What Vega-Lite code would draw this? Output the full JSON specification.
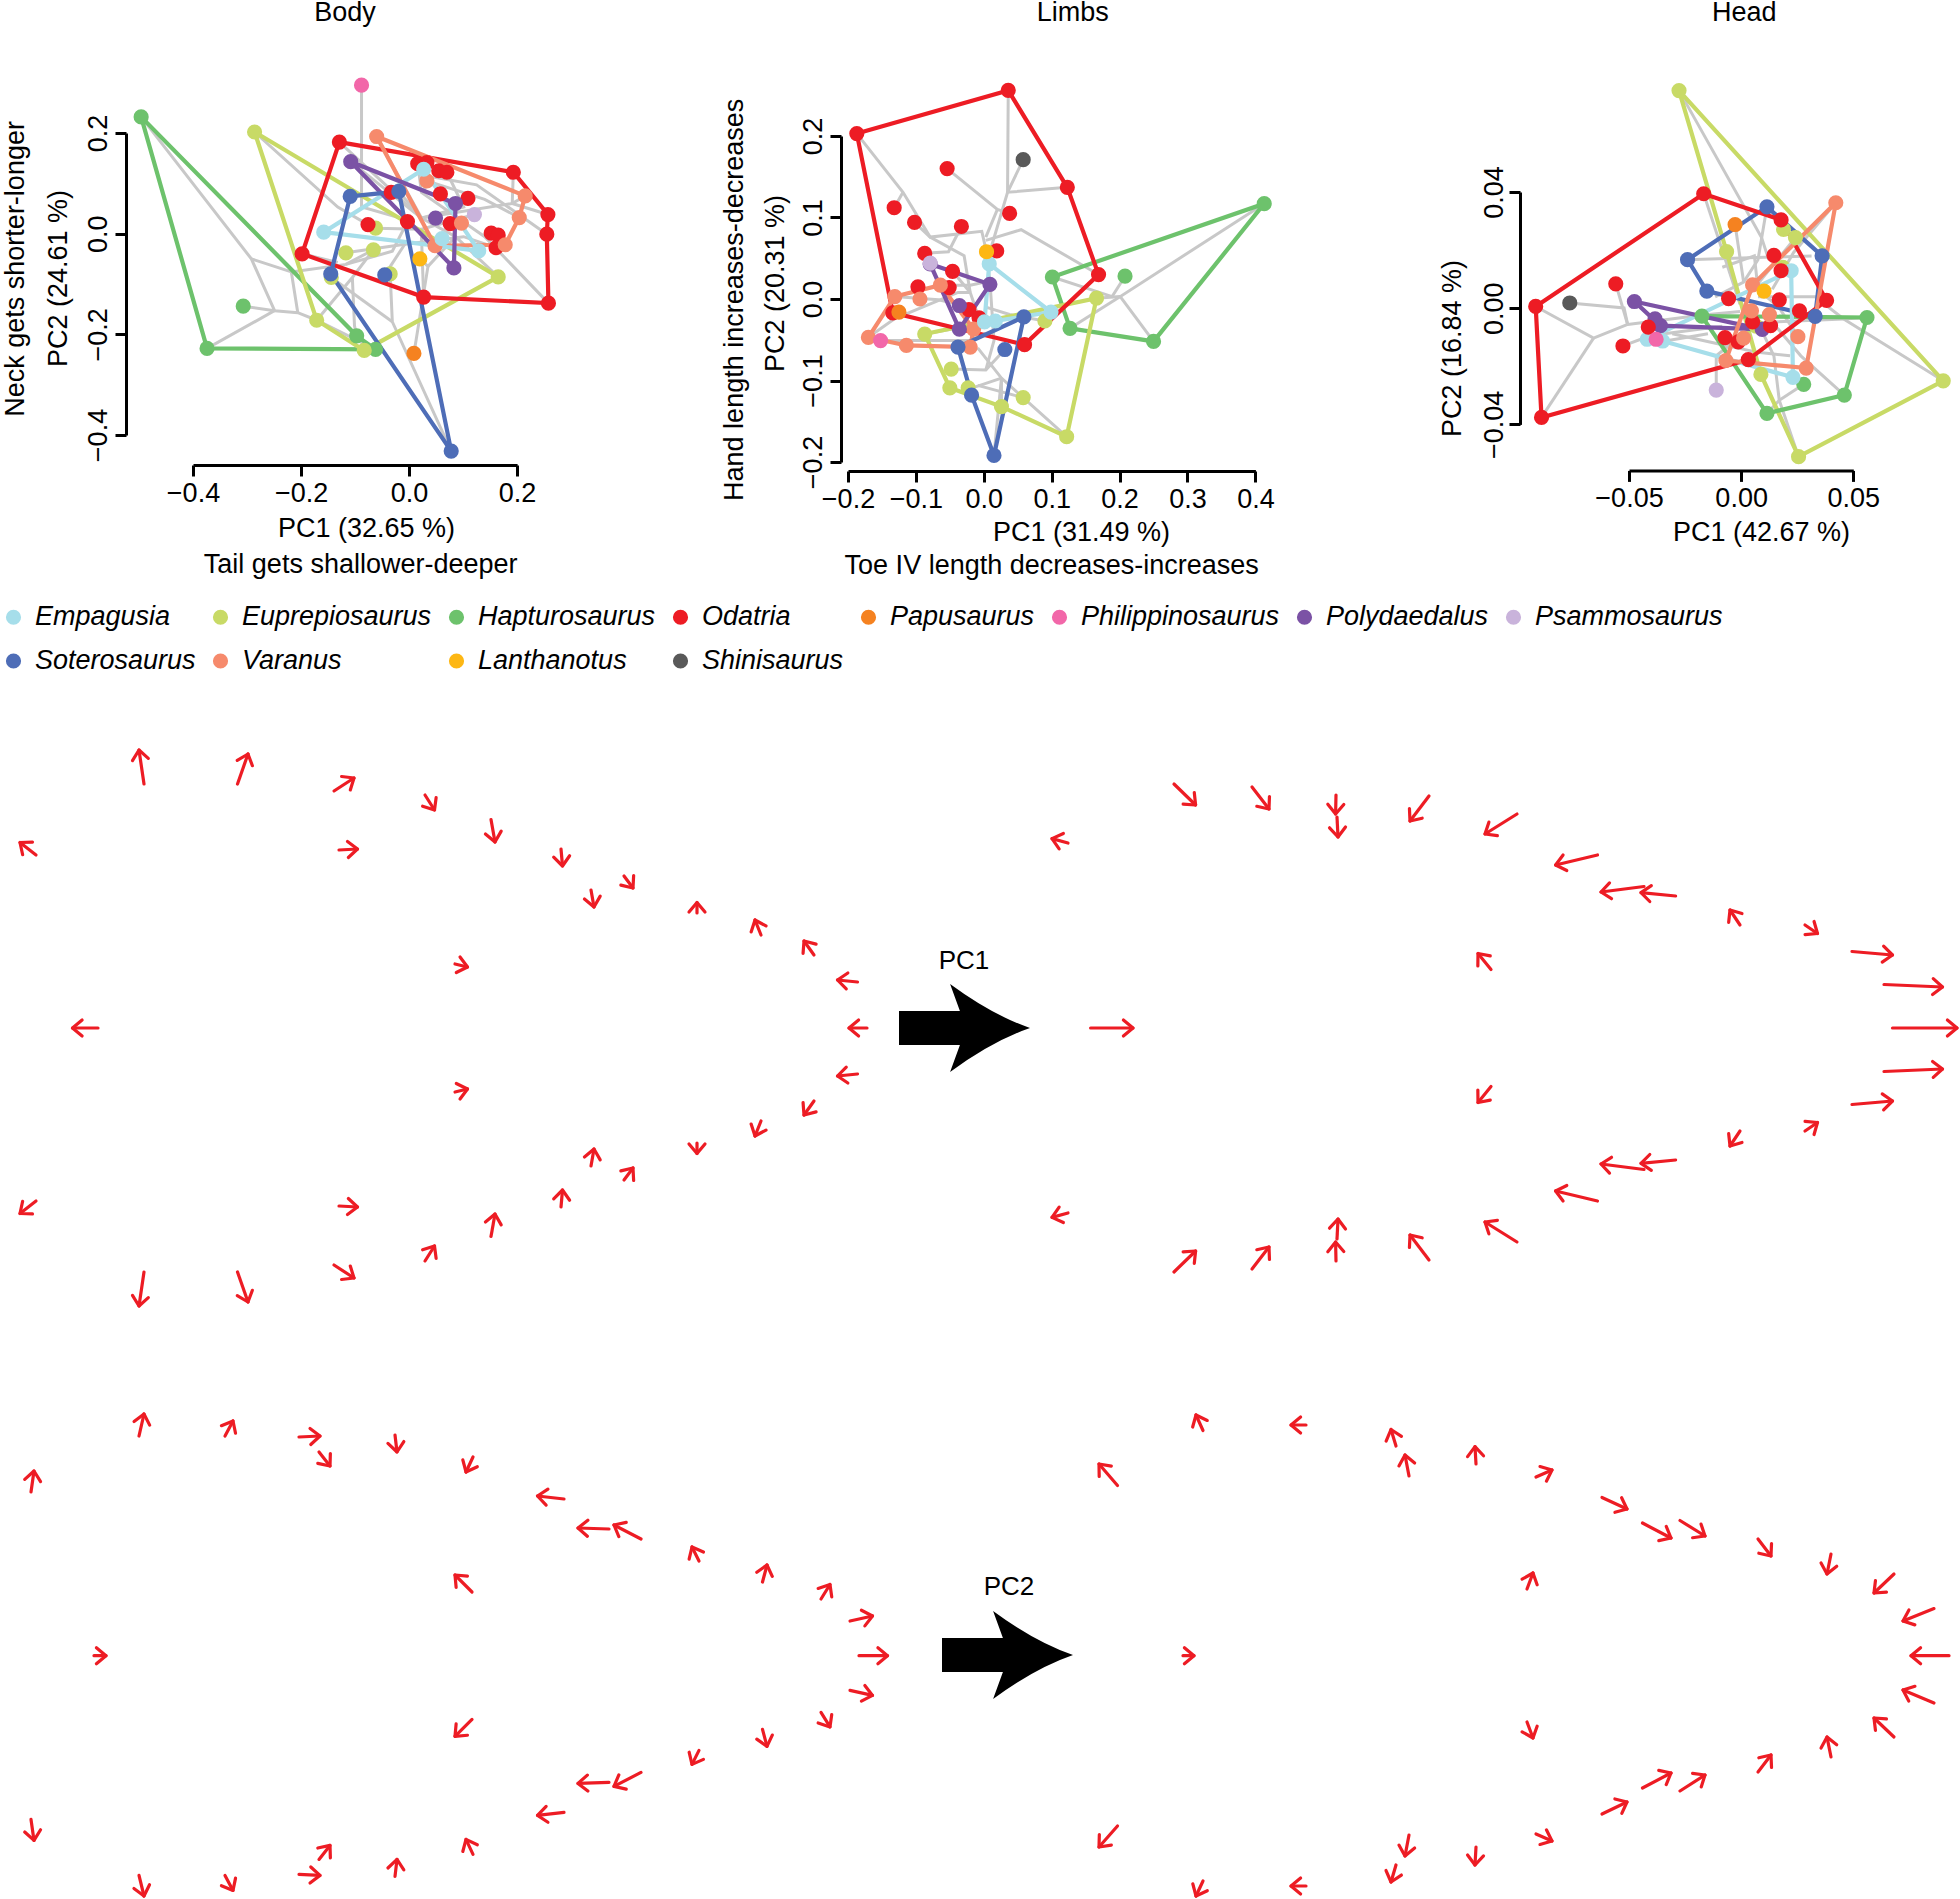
{"$schema":"https://vega.github.io/schema/vega-lite/v6.json","padding":{"left":0,"top":-3,"right":0,"bottom":0},"autosize":{"type":"pad"},"background":"white",
"config":{"font":"Liberation Sans","view":{"stroke":null},"axis":{"grid":false,"domainColor":"black","domainWidth":3,"tickColor":"black","tickWidth":3,"tickSize":11,"labelFontSize":27,"labelColor":"black","labelPadding":4,"labelOverlap":false,"labelBound":false,"labelFlush":false,"titleFontSize":27,"titleFontWeight":"normal","titleColor":"black"},"title":{"fontSize":27,"fontWeight":"normal","color":"black"},"legend":{"labelFontSize":27,"labelFontStyle":"italic","labelColor":"black","labelLimit":400,"symbolSize":230,"symbolStrokeWidth":0,"symbolOpacity":1}},
"datasets":{
"taxa":[
{"panel":"Body","genus":"Hapturosaurus","pc1":-0.496,"pc2":0.232,"hull":1},{"panel":"Body","genus":"Hapturosaurus","pc1":-0.097,"pc2":-0.203,"hull":2},{"panel":"Body","genus":"Hapturosaurus","pc1":-0.062,"pc2":-0.23,"hull":3},{"panel":"Body","genus":"Hapturosaurus","pc1":-0.374,"pc2":-0.228,"hull":4},{"panel":"Body","genus":"Hapturosaurus","pc1":-0.307,"pc2":-0.144},
{"panel":"Body","genus":"Euprepiosaurus","pc1":-0.286,"pc2":0.202,"hull":1},{"panel":"Body","genus":"Euprepiosaurus","pc1":0.165,"pc2":-0.086,"hull":2},{"panel":"Body","genus":"Euprepiosaurus","pc1":-0.083,"pc2":-0.232,"hull":3},{"panel":"Body","genus":"Euprepiosaurus","pc1":-0.171,"pc2":-0.172,"hull":4},{"panel":"Body","genus":"Euprepiosaurus","pc1":-0.062,"pc2":0.011},{"panel":"Body","genus":"Euprepiosaurus","pc1":-0.117,"pc2":-0.038},{"panel":"Body","genus":"Euprepiosaurus","pc1":-0.066,"pc2":-0.032},{"panel":"Body","genus":"Euprepiosaurus","pc1":-0.035,"pc2":-0.08},{"panel":"Body","genus":"Euprepiosaurus","pc1":-0.144,"pc2":-0.087},
{"panel":"Body","genus":"Odatria","pc1":-0.129,"pc2":0.182,"hull":1},{"panel":"Body","genus":"Odatria","pc1":0.193,"pc2":0.122,"hull":2},{"panel":"Body","genus":"Odatria","pc1":0.257,"pc2":0.038,"hull":3},{"panel":"Body","genus":"Odatria","pc1":0.255,"pc2":-0.001,"hull":4},{"panel":"Body","genus":"Odatria","pc1":0.258,"pc2":-0.138,"hull":5},{"panel":"Body","genus":"Odatria","pc1":0.027,"pc2":-0.126,"hull":6},{"panel":"Body","genus":"Odatria","pc1":-0.198,"pc2":-0.04,"hull":7},{"panel":"Body","genus":"Odatria","pc1":0.016,"pc2":0.139},{"panel":"Body","genus":"Odatria","pc1":0.033,"pc2":0.141},{"panel":"Body","genus":"Odatria","pc1":0.055,"pc2":0.125},{"panel":"Body","genus":"Odatria","pc1":0.07,"pc2":0.122},{"panel":"Body","genus":"Odatria","pc1":0.058,"pc2":0.079},{"panel":"Body","genus":"Odatria","pc1":0.109,"pc2":0.07},{"panel":"Body","genus":"Odatria","pc1":-0.033,"pc2":0.082},{"panel":"Body","genus":"Odatria","pc1":-0.003,"pc2":0.024},{"panel":"Body","genus":"Odatria","pc1":-0.076,"pc2":0.018},{"panel":"Body","genus":"Odatria","pc1":0.076,"pc2":0.02},{"panel":"Body","genus":"Odatria","pc1":0.152,"pc2":0.001},{"panel":"Body","genus":"Odatria","pc1":0.165,"pc2":-0.003},{"panel":"Body","genus":"Odatria","pc1":0.161,"pc2":-0.028},
{"panel":"Body","genus":"Varanus","pc1":-0.06,"pc2":0.193,"hull":1},{"panel":"Body","genus":"Varanus","pc1":0.215,"pc2":0.075,"hull":2},{"panel":"Body","genus":"Varanus","pc1":0.204,"pc2":0.032,"hull":3},{"panel":"Body","genus":"Varanus","pc1":0.178,"pc2":-0.022,"hull":4},{"panel":"Body","genus":"Varanus","pc1":0.048,"pc2":-0.024,"hull":5},{"panel":"Body","genus":"Varanus","pc1":0.033,"pc2":0.105},{"panel":"Body","genus":"Varanus","pc1":0.097,"pc2":0.021},
{"panel":"Body","genus":"Empagusia","pc1":0.027,"pc2":0.128,"hull":1},{"panel":"Body","genus":"Empagusia","pc1":-0.158,"pc2":0.003,"hull":2},{"panel":"Body","genus":"Empagusia","pc1":0.129,"pc2":-0.034,"hull":3},{"panel":"Body","genus":"Empagusia","pc1":0.061,"pc2":-0.01},
{"panel":"Body","genus":"Polydaedalus","pc1":-0.108,"pc2":0.143,"hull":1},{"panel":"Body","genus":"Polydaedalus","pc1":0.086,"pc2":0.06,"hull":2},{"panel":"Body","genus":"Polydaedalus","pc1":0.083,"pc2":-0.068,"hull":3},{"panel":"Body","genus":"Polydaedalus","pc1":0.049,"pc2":0.031},
{"panel":"Body","genus":"Soterosaurus","pc1":-0.109,"pc2":0.074,"hull":1},{"panel":"Body","genus":"Soterosaurus","pc1":-0.019,"pc2":0.084,"hull":2},{"panel":"Body","genus":"Soterosaurus","pc1":0.078,"pc2":-0.432,"hull":3},{"panel":"Body","genus":"Soterosaurus","pc1":-0.145,"pc2":-0.08,"hull":4},{"panel":"Body","genus":"Soterosaurus","pc1":-0.045,"pc2":-0.082},
{"panel":"Body","genus":"Psammosaurus","pc1":0.121,"pc2":0.038},{"panel":"Body","genus":"Philippinosaurus","pc1":-0.088,"pc2":0.295},{"panel":"Body","genus":"Papusaurus","pc1":0.009,"pc2":-0.238},{"panel":"Body","genus":"Lanthanotus","pc1":0.02,"pc2":-0.05},
{"panel":"Limbs","genus":"Hapturosaurus","pc1":0.101,"pc2":0.027,"hull":1},{"panel":"Limbs","genus":"Hapturosaurus","pc1":0.413,"pc2":0.117,"hull":2},{"panel":"Limbs","genus":"Hapturosaurus","pc1":0.25,"pc2":-0.052,"hull":3},{"panel":"Limbs","genus":"Hapturosaurus","pc1":0.127,"pc2":-0.036,"hull":4},{"panel":"Limbs","genus":"Hapturosaurus","pc1":0.208,"pc2":0.028},
{"panel":"Limbs","genus":"Euprepiosaurus","pc1":-0.087,"pc2":-0.043,"hull":1},{"panel":"Limbs","genus":"Euprepiosaurus","pc1":0.166,"pc2":0.001,"hull":2},{"panel":"Limbs","genus":"Euprepiosaurus","pc1":0.122,"pc2":-0.169,"hull":3},{"panel":"Limbs","genus":"Euprepiosaurus","pc1":0.026,"pc2":-0.132,"hull":4},{"panel":"Limbs","genus":"Euprepiosaurus","pc1":-0.05,"pc2":-0.109,"hull":5},{"panel":"Limbs","genus":"Euprepiosaurus","pc1":0.09,"pc2":-0.027},{"panel":"Limbs","genus":"Euprepiosaurus","pc1":-0.048,"pc2":-0.086},{"panel":"Limbs","genus":"Euprepiosaurus","pc1":-0.023,"pc2":-0.109},{"panel":"Limbs","genus":"Euprepiosaurus","pc1":0.058,"pc2":-0.121},
{"panel":"Limbs","genus":"Odatria","pc1":-0.187,"pc2":0.203,"hull":1},{"panel":"Limbs","genus":"Odatria","pc1":0.036,"pc2":0.256,"hull":2},{"panel":"Limbs","genus":"Odatria","pc1":0.123,"pc2":0.137,"hull":3},{"panel":"Limbs","genus":"Odatria","pc1":0.169,"pc2":0.03,"hull":4},{"panel":"Limbs","genus":"Odatria","pc1":0.06,"pc2":-0.056,"hull":5},{"panel":"Limbs","genus":"Odatria","pc1":-0.134,"pc2":-0.017,"hull":6},{"panel":"Limbs","genus":"Odatria","pc1":-0.054,"pc2":0.16},{"panel":"Limbs","genus":"Odatria","pc1":-0.132,"pc2":0.112},{"panel":"Limbs","genus":"Odatria","pc1":-0.102,"pc2":0.094},{"panel":"Limbs","genus":"Odatria","pc1":-0.033,"pc2":0.089},{"panel":"Limbs","genus":"Odatria","pc1":0.038,"pc2":0.105},{"panel":"Limbs","genus":"Odatria","pc1":-0.087,"pc2":0.056},{"panel":"Limbs","genus":"Odatria","pc1":0.019,"pc2":0.059},{"panel":"Limbs","genus":"Odatria","pc1":-0.046,"pc2":0.034},{"panel":"Limbs","genus":"Odatria","pc1":-0.097,"pc2":0.015},{"panel":"Limbs","genus":"Odatria","pc1":-0.051,"pc2":0.014},{"panel":"Limbs","genus":"Odatria","pc1":-0.022,"pc2":-0.013},{"panel":"Limbs","genus":"Odatria","pc1":-0.007,"pc2":-0.023},
{"panel":"Limbs","genus":"Varanus","pc1":-0.131,"pc2":0.003,"hull":1},{"panel":"Limbs","genus":"Varanus","pc1":-0.064,"pc2":0.017,"hull":2},{"panel":"Limbs","genus":"Varanus","pc1":-0.015,"pc2":-0.037,"hull":3},{"panel":"Limbs","genus":"Varanus","pc1":-0.02,"pc2":-0.059,"hull":4},{"panel":"Limbs","genus":"Varanus","pc1":-0.114,"pc2":-0.057,"hull":5},{"panel":"Limbs","genus":"Varanus","pc1":-0.17,"pc2":-0.047,"hull":6},{"panel":"Limbs","genus":"Varanus","pc1":-0.094,"pc2":0},
{"panel":"Limbs","genus":"Empagusia","pc1":0.008,"pc2":0.043,"hull":1},{"panel":"Limbs","genus":"Empagusia","pc1":0.099,"pc2":-0.016,"hull":2},{"panel":"Limbs","genus":"Empagusia","pc1":0.017,"pc2":-0.027,"hull":3},{"panel":"Limbs","genus":"Empagusia","pc1":0.001,"pc2":-0.028,"hull":4},
{"panel":"Limbs","genus":"Polydaedalus","pc1":-0.079,"pc2":0.043,"hull":1},{"panel":"Limbs","genus":"Polydaedalus","pc1":0.009,"pc2":0.018,"hull":2},{"panel":"Limbs","genus":"Polydaedalus","pc1":-0.036,"pc2":-0.037,"hull":3},{"panel":"Limbs","genus":"Polydaedalus","pc1":-0.036,"pc2":-0.008},
{"panel":"Limbs","genus":"Soterosaurus","pc1":-0.038,"pc2":-0.059,"hull":1},{"panel":"Limbs","genus":"Soterosaurus","pc1":0.059,"pc2":-0.022,"hull":2},{"panel":"Limbs","genus":"Soterosaurus","pc1":0.015,"pc2":-0.192,"hull":3},{"panel":"Limbs","genus":"Soterosaurus","pc1":-0.018,"pc2":-0.118,"hull":4},{"panel":"Limbs","genus":"Soterosaurus","pc1":0.031,"pc2":-0.062},
{"panel":"Limbs","genus":"Psammosaurus","pc1":-0.079,"pc2":0.044},{"panel":"Limbs","genus":"Philippinosaurus","pc1":-0.152,"pc2":-0.051},{"panel":"Limbs","genus":"Papusaurus","pc1":-0.125,"pc2":-0.016},{"panel":"Limbs","genus":"Lanthanotus","pc1":0.004,"pc2":0.058},{"panel":"Limbs","genus":"Shinisaurus","pc1":0.058,"pc2":0.171},
{"panel":"Head","genus":"Euprepiosaurus","pc1":-0.0277,"pc2":0.0749,"hull":1},{"panel":"Head","genus":"Euprepiosaurus","pc1":0.0901,"pc2":-0.025,"hull":2},{"panel":"Head","genus":"Euprepiosaurus","pc1":0.0256,"pc2":-0.0511,"hull":3},{"panel":"Head","genus":"Euprepiosaurus","pc1":0.0088,"pc2":-0.0228,"hull":4},{"panel":"Head","genus":"Euprepiosaurus","pc1":-0.0065,"pc2":0.0195,"hull":5},{"panel":"Head","genus":"Euprepiosaurus","pc1":0.0189,"pc2":0.0271},{"panel":"Head","genus":"Euprepiosaurus","pc1":0.0242,"pc2":0.0243},{"panel":"Head","genus":"Euprepiosaurus","pc1":0.0186,"pc2":0.0141},{"panel":"Head","genus":"Euprepiosaurus","pc1":0.0067,"pc2":-0.0062},
{"panel":"Head","genus":"Hapturosaurus","pc1":-0.0175,"pc2":-0.0027,"hull":1},{"panel":"Head","genus":"Hapturosaurus","pc1":0.0561,"pc2":-0.0032,"hull":2},{"panel":"Head","genus":"Hapturosaurus","pc1":0.046,"pc2":-0.0299,"hull":3},{"panel":"Head","genus":"Hapturosaurus","pc1":0.0115,"pc2":-0.0362,"hull":4},{"panel":"Head","genus":"Hapturosaurus","pc1":0.0279,"pc2":-0.0262},
{"panel":"Head","genus":"Soterosaurus","pc1":-0.0239,"pc2":0.0167,"hull":1},{"panel":"Head","genus":"Soterosaurus","pc1":0.0115,"pc2":0.0349,"hull":2},{"panel":"Head","genus":"Soterosaurus","pc1":0.0361,"pc2":0.018,"hull":3},{"panel":"Head","genus":"Soterosaurus","pc1":0.033,"pc2":-0.0028,"hull":4},{"panel":"Head","genus":"Soterosaurus","pc1":-0.0153,"pc2":0.0059,"hull":5},
{"panel":"Head","genus":"Empagusia","pc1":-0.0419,"pc2":-0.0107,"hull":1},{"panel":"Head","genus":"Empagusia","pc1":0.0223,"pc2":0.0129,"hull":2},{"panel":"Head","genus":"Empagusia","pc1":0.0231,"pc2":-0.0238,"hull":3},{"panel":"Head","genus":"Empagusia","pc1":-0.035,"pc2":-0.0113,"hull":4},
{"panel":"Head","genus":"Polydaedalus","pc1":-0.0476,"pc2":0.0023,"hull":1},{"panel":"Head","genus":"Polydaedalus","pc1":0.0094,"pc2":-0.0073,"hull":2},{"panel":"Head","genus":"Polydaedalus","pc1":-0.036,"pc2":-0.006,"hull":3},{"panel":"Head","genus":"Polydaedalus","pc1":-0.0384,"pc2":-0.0037},
{"panel":"Head","genus":"Odatria","pc1":-0.0916,"pc2":0.0006,"hull":1},{"panel":"Head","genus":"Odatria","pc1":-0.0167,"pc2":0.0394,"hull":2},{"panel":"Head","genus":"Odatria","pc1":0.0178,"pc2":0.0304,"hull":3},{"panel":"Head","genus":"Odatria","pc1":0.0381,"pc2":0.0027,"hull":4},{"panel":"Head","genus":"Odatria","pc1":0.0032,"pc2":-0.0177,"hull":5},{"panel":"Head","genus":"Odatria","pc1":-0.089,"pc2":-0.0376,"hull":6},{"panel":"Head","genus":"Odatria","pc1":-0.0559,"pc2":0.0084},{"panel":"Head","genus":"Odatria","pc1":-0.0527,"pc2":-0.013},{"panel":"Head","genus":"Odatria","pc1":-0.0414,"pc2":-0.0065},{"panel":"Head","genus":"Odatria","pc1":-0.0056,"pc2":0.0033},{"panel":"Head","genus":"Odatria","pc1":0.0146,"pc2":0.0182},{"panel":"Head","genus":"Odatria","pc1":0.0178,"pc2":0.0129},{"panel":"Head","genus":"Odatria","pc1":0.017,"pc2":0.0029},{"panel":"Head","genus":"Odatria","pc1":0.026,"pc2":-0.0009},{"panel":"Head","genus":"Odatria","pc1":-0.0072,"pc2":-0.0101},{"panel":"Head","genus":"Odatria","pc1":-0.0013,"pc2":-0.0116},{"panel":"Head","genus":"Odatria","pc1":0.0051,"pc2":-0.0047},{"panel":"Head","genus":"Odatria","pc1":0.0131,"pc2":-0.006},
{"panel":"Head","genus":"Varanus","pc1":0.0422,"pc2":0.0363,"hull":1},{"panel":"Head","genus":"Varanus","pc1":0.029,"pc2":-0.0206,"hull":2},{"panel":"Head","genus":"Varanus","pc1":-0.0068,"pc2":-0.018,"hull":3},{"panel":"Head","genus":"Varanus","pc1":0.0051,"pc2":0.008,"hull":4},{"panel":"Head","genus":"Varanus","pc1":0.0046,"pc2":-0.0009},{"panel":"Head","genus":"Varanus","pc1":0.0126,"pc2":-0.0022},{"panel":"Head","genus":"Varanus","pc1":0.0253,"pc2":-0.0098},{"panel":"Head","genus":"Varanus","pc1":0.0011,"pc2":-0.0103},
{"panel":"Head","genus":"Papusaurus","pc1":-0.0027,"pc2":0.0288},{"panel":"Head","genus":"Lanthanotus","pc1":0.0102,"pc2":0.0059},{"panel":"Head","genus":"Shinisaurus","pc1":-0.0764,"pc2":0.0018},{"panel":"Head","genus":"Psammosaurus","pc1":-0.0111,"pc2":-0.0282},{"panel":"Head","genus":"Philippinosaurus","pc1":-0.0379,"pc2":-0.0107}
],
"branches":[
{"panel":"Body","branch":"1","pc1":-0.088,"pc2":0.295},{"panel":"Body","branch":"1","pc1":-0.088,"pc2":0.053},{"panel":"Body","branch":"1","pc1":-0.016,"pc2":0.031},
{"panel":"Body","branch":"2","pc1":-0.496,"pc2":0.232},{"panel":"Body","branch":"2","pc1":-0.292,"pc2":-0.05},{"panel":"Body","branch":"2","pc1":-0.249,"pc2":-0.153},{"panel":"Body","branch":"2","pc1":-0.374,"pc2":-0.228},
{"panel":"Body","branch":"3","pc1":-0.307,"pc2":-0.144},{"panel":"Body","branch":"3","pc1":-0.249,"pc2":-0.153},{"panel":"Body","branch":"3","pc1":-0.206,"pc2":-0.157},{"panel":"Body","branch":"3","pc1":-0.171,"pc2":-0.172},{"panel":"Body","branch":"3","pc1":-0.062,"pc2":-0.23},
{"panel":"Body","branch":"4","pc1":-0.292,"pc2":-0.05},{"panel":"Body","branch":"4","pc1":-0.218,"pc2":-0.076},{"panel":"Body","branch":"4","pc1":-0.206,"pc2":-0.157},
{"panel":"Body","branch":"5","pc1":-0.218,"pc2":-0.076},{"panel":"Body","branch":"5","pc1":-0.117,"pc2":-0.061},{"panel":"Body","branch":"5","pc1":-0.066,"pc2":-0.032},
{"panel":"Body","branch":"6","pc1":-0.117,"pc2":-0.061},{"panel":"Body","branch":"6","pc1":-0.031,"pc2":-0.035},{"panel":"Body","branch":"6","pc1":-0.003,"pc2":0.024},
{"panel":"Body","branch":"7","pc1":-0.105,"pc2":-0.087},{"panel":"Body","branch":"7","pc1":-0.101,"pc2":-0.183},{"panel":"Body","branch":"7","pc1":-0.097,"pc2":-0.203},
{"panel":"Body","branch":"8","pc1":-0.286,"pc2":0.202},{"panel":"Body","branch":"8","pc1":-0.132,"pc2":0.053},{"panel":"Body","branch":"8","pc1":-0.076,"pc2":0.018},
{"panel":"Body","branch":"9","pc1":-0.035,"pc2":-0.08},{"panel":"Body","branch":"9","pc1":-0.031,"pc2":-0.175},{"panel":"Body","branch":"9","pc1":0.078,"pc2":-0.432},
{"panel":"Body","branch":"10","pc1":-0.031,"pc2":-0.175},{"panel":"Body","branch":"10","pc1":-0.144,"pc2":-0.087},
{"panel":"Body","branch":"11","pc1":0.02,"pc2":-0.05},{"panel":"Body","branch":"11","pc1":0.035,"pc2":-0.065},{"panel":"Body","branch":"11","pc1":0.009,"pc2":-0.238},
{"panel":"Body","branch":"12","pc1":0.035,"pc2":-0.065},{"panel":"Body","branch":"12","pc1":0.086,"pc2":-0.006},{"panel":"Body","branch":"12","pc1":0.023,"pc2":0.031},{"panel":"Body","branch":"12","pc1":-0.129,"pc2":0.182},
{"panel":"Body","branch":"13","pc1":0.023,"pc2":0.031},{"panel":"Body","branch":"13","pc1":-0.06,"pc2":0.193},
{"panel":"Body","branch":"14","pc1":0.023,"pc2":0.031},{"panel":"Body","branch":"14","pc1":0.191,"pc2":0.06},{"panel":"Body","branch":"14","pc1":0.193,"pc2":0.122},
{"panel":"Body","branch":"15","pc1":0.191,"pc2":0.06},{"panel":"Body","branch":"15","pc1":0.257,"pc2":0.038},
{"panel":"Body","branch":"16","pc1":0.191,"pc2":0.06},{"panel":"Body","branch":"16","pc1":0.215,"pc2":0.075},
{"panel":"Body","branch":"17","pc1":0.016,"pc2":0.139},{"panel":"Body","branch":"17","pc1":0.023,"pc2":0.082},{"panel":"Body","branch":"17","pc1":0.14,"pc2":-0.006},{"panel":"Body","branch":"17","pc1":0.258,"pc2":-0.138},
{"panel":"Body","branch":"18","pc1":0.055,"pc2":0.125},{"panel":"Body","branch":"18","pc1":0.023,"pc2":0.082},
{"panel":"Body","branch":"19","pc1":0.07,"pc2":0.122},{"panel":"Body","branch":"19","pc1":0.101,"pc2":0.053},{"panel":"Body","branch":"19","pc1":0.023,"pc2":0.031},
{"panel":"Body","branch":"20","pc1":0.255,"pc2":-0.001},{"panel":"Body","branch":"20","pc1":0.125,"pc2":0.097},{"panel":"Body","branch":"20","pc1":0.047,"pc2":0.112},
{"panel":"Body","branch":"21","pc1":-0.062,"pc2":0.011},{"panel":"Body","branch":"21","pc1":0.023,"pc2":0.009},{"panel":"Body","branch":"21","pc1":0.121,"pc2":0.038},
{"panel":"Body","branch":"22","pc1":-0.117,"pc2":-0.038},{"panel":"Body","branch":"22","pc1":-0.008,"pc2":-0.021},{"panel":"Body","branch":"22","pc1":0.101,"pc2":-0.006},{"panel":"Body","branch":"22","pc1":0.161,"pc2":-0.028},
{"panel":"Body","branch":"23","pc1":0.033,"pc2":0.105},{"panel":"Body","branch":"23","pc1":0.14,"pc2":0.068},{"panel":"Body","branch":"23","pc1":0.204,"pc2":0.032},
{"panel":"Body","branch":"24","pc1":0.027,"pc2":-0.126},{"panel":"Body","branch":"24","pc1":0.023,"pc2":-0.006},
{"panel":"Body","branch":"25","pc1":-0.198,"pc2":-0.04},{"panel":"Body","branch":"25","pc1":-0.132,"pc2":-0.057},
{"panel":"Body","branch":"26","pc1":-0.045,"pc2":-0.082},{"panel":"Body","branch":"26","pc1":-0.008,"pc2":-0.021},
{"panel":"Body","branch":"27","pc1":0.165,"pc2":-0.086},{"panel":"Body","branch":"27","pc1":0.086,"pc2":-0.006},
{"panel":"Body","branch":"28","pc1":-0.108,"pc2":0.143},{"panel":"Body","branch":"28","pc1":0.023,"pc2":0.031},
{"panel":"Body","branch":"29","pc1":-0.019,"pc2":0.084},{"panel":"Body","branch":"29","pc1":0.023,"pc2":0.031},
{"panel":"Body","branch":"30","pc1":-0.171,"pc2":-0.172},{"panel":"Body","branch":"30","pc1":-0.105,"pc2":-0.087},{"panel":"Body","branch":"30","pc1":-0.066,"pc2":-0.032},
{"panel":"Limbs","branch":"1","pc1":0.058,"pc2":0.171},{"panel":"Limbs","branch":"1","pc1":0.035,"pc2":0.131},{"panel":"Limbs","branch":"1","pc1":0.009,"pc2":0.058},
{"panel":"Limbs","branch":"2","pc1":0.036,"pc2":0.256},{"panel":"Limbs","branch":"2","pc1":0.035,"pc2":0.131},{"panel":"Limbs","branch":"2","pc1":0.123,"pc2":0.137},
{"panel":"Limbs","branch":"3","pc1":-0.054,"pc2":0.16},{"panel":"Limbs","branch":"3","pc1":0.02,"pc2":0.11},{"panel":"Limbs","branch":"3","pc1":0.038,"pc2":0.105},
{"panel":"Limbs","branch":"4","pc1":0.02,"pc2":0.11},{"panel":"Limbs","branch":"4","pc1":0.003,"pc2":0.076},
{"panel":"Limbs","branch":"5","pc1":-0.187,"pc2":0.203},{"panel":"Limbs","branch":"5","pc1":-0.119,"pc2":0.131},{"panel":"Limbs","branch":"5","pc1":-0.079,"pc2":0.076},{"panel":"Limbs","branch":"5","pc1":-0.029,"pc2":0.053},{"panel":"Limbs","branch":"5","pc1":-0.02,"pc2":0.008},{"panel":"Limbs","branch":"5","pc1":-0.009,"pc2":-0.019},
{"panel":"Limbs","branch":"6","pc1":-0.132,"pc2":0.112},{"panel":"Limbs","branch":"6","pc1":-0.119,"pc2":0.131},
{"panel":"Limbs","branch":"7","pc1":-0.102,"pc2":0.094},{"panel":"Limbs","branch":"7","pc1":-0.079,"pc2":0.076},{"panel":"Limbs","branch":"7","pc1":-0.003,"pc2":0.083},{"panel":"Limbs","branch":"7","pc1":0.004,"pc2":0.058},
{"panel":"Limbs","branch":"8","pc1":-0.033,"pc2":0.089},{"panel":"Limbs","branch":"8","pc1":-0.052,"pc2":0.058},{"panel":"Limbs","branch":"8","pc1":-0.087,"pc2":0.056},
{"panel":"Limbs","branch":"9","pc1":0.003,"pc2":0.072},{"panel":"Limbs","branch":"9","pc1":0.055,"pc2":0.085},{"panel":"Limbs","branch":"9","pc1":0.169,"pc2":0.03},
{"panel":"Limbs","branch":"10","pc1":0.413,"pc2":0.117},{"panel":"Limbs","branch":"10","pc1":0.201,"pc2":0.003},{"panel":"Limbs","branch":"10","pc1":0.25,"pc2":-0.052},
{"panel":"Limbs","branch":"11","pc1":0.166,"pc2":0.001},{"panel":"Limbs","branch":"11","pc1":0.201,"pc2":0.003},
{"panel":"Limbs","branch":"12","pc1":0.201,"pc2":0.003},{"panel":"Limbs","branch":"12","pc1":0.127,"pc2":-0.036},
{"panel":"Limbs","branch":"13","pc1":0.208,"pc2":0.028},{"panel":"Limbs","branch":"13","pc1":0.189,"pc2":0.003},{"panel":"Limbs","branch":"13","pc1":0.101,"pc2":0.027},
{"panel":"Limbs","branch":"14","pc1":-0.17,"pc2":-0.047},{"panel":"Limbs","branch":"14","pc1":-0.131,"pc2":-0.024},{"panel":"Limbs","branch":"14","pc1":-0.038,"pc2":0.008},{"panel":"Limbs","branch":"14","pc1":-0.02,"pc2":0.008},
{"panel":"Limbs","branch":"15","pc1":-0.131,"pc2":0.003},{"panel":"Limbs","branch":"15","pc1":-0.067,"pc2":-0.001},{"panel":"Limbs","branch":"15","pc1":-0.02,"pc2":-0.01},
{"panel":"Limbs","branch":"16","pc1":-0.152,"pc2":-0.051},{"panel":"Limbs","branch":"16","pc1":-0.02,"pc2":-0.051},{"panel":"Limbs","branch":"16","pc1":0.003,"pc2":-0.042},
{"panel":"Limbs","branch":"17","pc1":-0.009,"pc2":-0.06},{"panel":"Limbs","branch":"17","pc1":0.026,"pc2":-0.097},{"panel":"Limbs","branch":"17","pc1":0.122,"pc2":-0.169},
{"panel":"Limbs","branch":"18","pc1":0.026,"pc2":-0.097},{"panel":"Limbs","branch":"18","pc1":-0.02,"pc2":-0.11},
{"panel":"Limbs","branch":"19","pc1":0.026,"pc2":-0.097},{"panel":"Limbs","branch":"19","pc1":0.015,"pc2":-0.192},
{"panel":"Limbs","branch":"20","pc1":0.026,"pc2":-0.097},{"panel":"Limbs","branch":"20","pc1":0.026,"pc2":-0.132},
{"panel":"Limbs","branch":"21","pc1":-0.009,"pc2":-0.106},{"panel":"Limbs","branch":"21","pc1":0.058,"pc2":-0.121},
{"panel":"Limbs","branch":"22","pc1":-0.048,"pc2":-0.086},{"panel":"Limbs","branch":"22","pc1":0.003,"pc2":-0.087},{"panel":"Limbs","branch":"22","pc1":0.031,"pc2":-0.062},
{"panel":"Limbs","branch":"23","pc1":0.003,"pc2":-0.087},{"panel":"Limbs","branch":"23","pc1":0.015,"pc2":-0.051},{"panel":"Limbs","branch":"23","pc1":0.009,"pc2":0.022},{"panel":"Limbs","branch":"23","pc1":0.003,"pc2":0.058},
{"panel":"Limbs","branch":"24","pc1":-0.087,"pc2":-0.043},{"panel":"Limbs","branch":"24","pc1":-0.02,"pc2":-0.033},
{"panel":"Limbs","branch":"25","pc1":-0.046,"pc2":0.034},{"panel":"Limbs","branch":"25","pc1":-0.02,"pc2":0.008},
{"panel":"Limbs","branch":"26","pc1":-0.064,"pc2":0.017},{"panel":"Limbs","branch":"26","pc1":-0.02,"pc2":0.017},{"panel":"Limbs","branch":"26","pc1":0.009,"pc2":0.022},
{"panel":"Limbs","branch":"27","pc1":0.09,"pc2":-0.027},{"panel":"Limbs","branch":"27","pc1":0.038,"pc2":-0.019},{"panel":"Limbs","branch":"27","pc1":0.003,"pc2":-0.01},
{"panel":"Head","branch":"1","pc1":-0.0764,"pc2":0.0018},{"panel":"Head","branch":"1","pc1":-0.0522,"pc2":0.0001},{"panel":"Head","branch":"1","pc1":-0.0506,"pc2":-0.0056},
{"panel":"Head","branch":"2","pc1":-0.0559,"pc2":0.0084},{"panel":"Head","branch":"2","pc1":-0.0506,"pc2":-0.0056},
{"panel":"Head","branch":"3","pc1":-0.0916,"pc2":0.0006},{"panel":"Head","branch":"3","pc1":-0.0658,"pc2":-0.0103},{"panel":"Head","branch":"3","pc1":-0.0506,"pc2":-0.0056},
{"panel":"Head","branch":"4","pc1":-0.0658,"pc2":-0.0103},{"panel":"Head","branch":"4","pc1":-0.089,"pc2":-0.0376},
{"panel":"Head","branch":"5","pc1":-0.0506,"pc2":-0.0056},{"panel":"Head","branch":"5","pc1":-0.018,"pc2":-0.0024},{"panel":"Head","branch":"5","pc1":-0.0005,"pc2":-0.0011},
{"panel":"Head","branch":"6","pc1":-0.0527,"pc2":-0.013},{"panel":"Head","branch":"6","pc1":-0.0403,"pc2":-0.0094},{"panel":"Head","branch":"6","pc1":-0.0084,"pc2":-0.0062},
{"panel":"Head","branch":"7","pc1":-0.0277,"pc2":0.0749},{"panel":"Head","branch":"7","pc1":0.0091,"pc2":0.0243},{"panel":"Head","branch":"7","pc1":0.0123,"pc2":0.0167},
{"panel":"Head","branch":"8","pc1":-0.0167,"pc2":0.0394},{"panel":"Head","branch":"8","pc1":-0.0005,"pc2":0.0014},
{"panel":"Head","branch":"9","pc1":0.0901,"pc2":-0.025},{"panel":"Head","branch":"9","pc1":0.0457,"pc2":-0.0037},{"panel":"Head","branch":"9","pc1":0.033,"pc2":0.0039},{"panel":"Head","branch":"9","pc1":0.0075,"pc2":0.0039},
{"panel":"Head","branch":"10","pc1":0.0457,"pc2":-0.0037},{"panel":"Head","branch":"10","pc1":0.0075,"pc2":-0.005},
{"panel":"Head","branch":"11","pc1":0.0256,"pc2":-0.0511},{"panel":"Head","branch":"11","pc1":0.017,"pc2":-0.0317},{"panel":"Head","branch":"11","pc1":0.0115,"pc2":-0.0362},
{"panel":"Head","branch":"12","pc1":0.017,"pc2":-0.0317},{"panel":"Head","branch":"12","pc1":0.0279,"pc2":-0.0262},
{"panel":"Head","branch":"13","pc1":0.017,"pc2":-0.0317},{"panel":"Head","branch":"13","pc1":0.0146,"pc2":-0.0164},{"panel":"Head","branch":"13","pc1":0.0075,"pc2":-0.005},
{"panel":"Head","branch":"14","pc1":0.046,"pc2":-0.0299},{"panel":"Head","branch":"14","pc1":0.0266,"pc2":-0.0164},{"panel":"Head","branch":"14","pc1":0.0154,"pc2":-0.0062},
{"panel":"Head","branch":"15","pc1":-0.0111,"pc2":-0.0282},{"panel":"Head","branch":"15","pc1":-0.0111,"pc2":-0.0164},{"panel":"Head","branch":"15","pc1":0.0011,"pc2":-0.0088},
{"panel":"Head","branch":"16","pc1":-0.0239,"pc2":0.0167},{"panel":"Head","branch":"16","pc1":0.0314,"pc2":0.018},
{"panel":"Head","branch":"17","pc1":0.0422,"pc2":0.0363},{"panel":"Head","branch":"17","pc1":0.0234,"pc2":0.0192},{"panel":"Head","branch":"17","pc1":0.0139,"pc2":0.0065},
{"panel":"Head","branch":"18","pc1":0.0115,"pc2":0.0349},{"panel":"Head","branch":"18","pc1":0.0075,"pc2":0.0167},{"panel":"Head","branch":"18","pc1":0.0011,"pc2":0.009},{"panel":"Head","branch":"18","pc1":-0.0116,"pc2":0.0039},
{"panel":"Head","branch":"19","pc1":0.0242,"pc2":0.0243},{"panel":"Head","branch":"19","pc1":0.0027,"pc2":0.0039},
{"panel":"Head","branch":"20","pc1":-0.0084,"pc2":0.0141},{"panel":"Head","branch":"20","pc1":0.0059,"pc2":0.018},{"panel":"Head","branch":"20","pc1":0.0075,"pc2":0.0065},{"panel":"Head","branch":"20","pc1":0.017,"pc2":0.0001},
{"panel":"Head","branch":"21","pc1":-0.0307,"pc2":-0.0088},{"panel":"Head","branch":"21","pc1":-0.0084,"pc2":-0.0126},{"panel":"Head","branch":"21","pc1":0.0075,"pc2":-0.0152},{"panel":"Head","branch":"21","pc1":0.0218,"pc2":-0.0164},
{"panel":"Head","branch":"22","pc1":-0.0065,"pc2":0.0195},{"panel":"Head","branch":"22","pc1":-0.0005,"pc2":0.0014},
{"panel":"Head","branch":"23","pc1":-0.0027,"pc2":0.0288},{"panel":"Head","branch":"23","pc1":0.0011,"pc2":0.009},
{"panel":"Head","branch":"24","pc1":0.0561,"pc2":-0.0032},{"panel":"Head","branch":"24","pc1":0.0457,"pc2":-0.0037},
{"panel":"Head","branch":"25","pc1":0.0253,"pc2":-0.0098},{"panel":"Head","branch":"25","pc1":0.017,"pc2":0.0001},
{"panel":"Head","branch":"26","pc1":-0.0339,"pc2":-0.0113},{"panel":"Head","branch":"26","pc1":-0.0148,"pc2":-0.0088}
],
"arrows":[
{"x0":36,"y0":855,"x1":20,"y1":842.5},{"x0":144,"y0":784,"x1":139,"y1":750},{"x0":237.5,"y0":784,"x1":248,"y1":754},{"x0":334,"y0":791,"x1":354,"y1":778},{"x0":425,"y0":795,"x1":434.5,"y1":810},{"x0":491,"y0":819.5,"x1":495,"y1":842},{"x0":561,"y0":849,"x1":562.5,"y1":866},{"x0":591,"y0":890,"x1":594,"y1":907},{"x0":624,"y0":876,"x1":633,"y1":888},{"x0":697,"y0":913,"x1":697,"y1":902.5},{"x0":761,"y0":935,"x1":755,"y1":920},{"x0":814,"y0":955,"x1":804,"y1":941},{"x0":857.5,"y0":982,"x1":837.5,"y1":980},{"x0":867,"y0":1028,"x1":849,"y1":1028},{"x0":339,"y0":850,"x1":357.5,"y1":849},{"x0":455,"y0":964,"x1":467.5,"y1":967},{"x0":98,"y0":1028,"x1":72.5,"y1":1028},
{"x0":36,"y0":1201,"x1":20,"y1":1213.5},{"x0":144,"y0":1272,"x1":139,"y1":1306},{"x0":237.5,"y0":1272,"x1":248,"y1":1302},{"x0":334,"y0":1265,"x1":354,"y1":1278},{"x0":425,"y0":1261,"x1":434.5,"y1":1246},{"x0":491,"y0":1236.5,"x1":495,"y1":1214},{"x0":561,"y0":1207,"x1":562.5,"y1":1190},{"x0":591,"y0":1166,"x1":594,"y1":1149},{"x0":624,"y0":1180,"x1":633,"y1":1168},{"x0":697,"y0":1143,"x1":697,"y1":1153.5},{"x0":761,"y0":1121,"x1":755,"y1":1136},{"x0":814,"y0":1101,"x1":804,"y1":1115},{"x0":857.5,"y0":1074,"x1":837.5,"y1":1076},{"x0":339,"y0":1206,"x1":357.5,"y1":1207},{"x0":455,"y0":1092,"x1":467.5,"y1":1089},
{"x0":1090.6,"y0":1028,"x1":1133,"y1":1028},{"x0":1068,"y0":843,"x1":1052,"y1":838.6},{"x0":1174,"y0":784,"x1":1195.6,"y1":805},{"x0":1252,"y0":787,"x1":1269,"y1":809},{"x0":1336,"y0":795,"x1":1335.6,"y1":814},{"x0":1337,"y0":817,"x1":1338,"y1":837},{"x0":1429,"y0":796,"x1":1410,"y1":821},{"x0":1517,"y0":814,"x1":1485,"y1":834},{"x0":1597.5,"y0":855,"x1":1555.6,"y1":865},{"x0":1644,"y0":886.5,"x1":1601,"y1":892},{"x0":1675.6,"y0":896,"x1":1641,"y1":892.6},{"x0":1740,"y0":925,"x1":1730,"y1":910},{"x0":1805,"y0":925,"x1":1817.5,"y1":933.5},{"x0":1852,"y0":951.5,"x1":1892.5,"y1":955},{"x0":1884,"y0":984.5,"x1":1942.5,"y1":987},{"x0":1892.5,"y0":1028,"x1":1957,"y1":1028},{"x0":1491,"y0":969.5,"x1":1478,"y1":953.5},
{"x0":1068,"y0":1213,"x1":1052,"y1":1217.4},{"x0":1174,"y0":1272,"x1":1195.6,"y1":1251},{"x0":1252,"y0":1269,"x1":1269,"y1":1247},{"x0":1336,"y0":1261,"x1":1335.6,"y1":1242},{"x0":1337,"y0":1239,"x1":1338,"y1":1219},{"x0":1429,"y0":1260,"x1":1410,"y1":1235},{"x0":1517,"y0":1242,"x1":1485,"y1":1222},{"x0":1597.5,"y0":1201,"x1":1555.6,"y1":1191},{"x0":1644,"y0":1169.5,"x1":1601,"y1":1164},{"x0":1675.6,"y0":1160,"x1":1641,"y1":1163.4},{"x0":1740,"y0":1131,"x1":1730,"y1":1146},{"x0":1805,"y0":1131,"x1":1817.5,"y1":1122.5},{"x0":1852,"y0":1104.5,"x1":1892.5,"y1":1101},{"x0":1884,"y0":1071.5,"x1":1942.5,"y1":1069},{"x0":1491,"y0":1086.5,"x1":1478,"y1":1102.5},
{"x0":31,"y0":1492,"x1":34,"y1":1471},{"x0":139,"y0":1436,"x1":144,"y1":1414},{"x0":225,"y0":1436,"x1":233,"y1":1421},{"x0":299,"y0":1437,"x1":320,"y1":1436},{"x0":319,"y0":1452,"x1":330,"y1":1466},{"x0":395,"y0":1435,"x1":397,"y1":1452},{"x0":473,"y0":1457,"x1":466,"y1":1472},{"x0":564,"y0":1499,"x1":537.5,"y1":1496},{"x0":609,"y0":1529,"x1":578,"y1":1528},{"x0":641,"y0":1539,"x1":614,"y1":1525},{"x0":699,"y0":1561,"x1":692,"y1":1547},{"x0":762.5,"y0":1582,"x1":767,"y1":1565},{"x0":821,"y0":1599,"x1":830,"y1":1584.5},{"x0":850,"y0":1621,"x1":872.5,"y1":1616},{"x0":859,"y0":1655.7,"x1":887.5,"y1":1655.7},{"x0":472,"y0":1592,"x1":455,"y1":1575},{"x0":94,"y0":1655.7,"x1":106,"y1":1655.7},
{"x0":31,"y0":1819.4,"x1":34,"y1":1840.4},{"x0":139,"y0":1875.4,"x1":144,"y1":1896},{"x0":225,"y0":1875.4,"x1":233,"y1":1890.4},{"x0":299,"y0":1874.4,"x1":320,"y1":1875.4},{"x0":319,"y0":1859.4,"x1":330,"y1":1845.4},{"x0":395,"y0":1876.4,"x1":397,"y1":1859.4},{"x0":473,"y0":1854.4,"x1":466,"y1":1839.4},{"x0":564,"y0":1812.4,"x1":537.5,"y1":1815.4},{"x0":609,"y0":1782.4,"x1":578,"y1":1783.4},{"x0":641,"y0":1772.4,"x1":614,"y1":1786.4},{"x0":699,"y0":1750.4,"x1":692,"y1":1764.4},{"x0":762.5,"y0":1729.4,"x1":767,"y1":1746.4},{"x0":821,"y0":1712.4,"x1":830,"y1":1726.9},{"x0":850,"y0":1690.4,"x1":872.5,"y1":1695.4},{"x0":472,"y0":1719.4,"x1":455,"y1":1736.4},
{"x0":1183,"y0":1655.7,"x1":1194,"y1":1655.7},{"x0":1117.5,"y0":1485.5,"x1":1099,"y1":1464},{"x0":1203,"y0":1430.5,"x1":1196,"y1":1415},{"x0":1306,"y0":1425,"x1":1291,"y1":1425},{"x0":1396,"y0":1446,"x1":1391,"y1":1429.5},{"x0":1409,"y0":1476,"x1":1405,"y1":1455},{"x0":1476,"y0":1464,"x1":1475,"y1":1446.6},{"x0":1536,"y0":1477,"x1":1552,"y1":1470},{"x0":1602,"y0":1497.5,"x1":1627,"y1":1509},{"x0":1642.5,"y0":1523,"x1":1671,"y1":1538},{"x0":1680,"y0":1520.5,"x1":1705,"y1":1536},{"x0":1758,"y0":1539,"x1":1771,"y1":1556},{"x0":1831,"y0":1554,"x1":1827,"y1":1574},{"x0":1894,"y0":1574,"x1":1874,"y1":1593},{"x0":1934,"y0":1608.6,"x1":1903,"y1":1621},{"x0":1949,"y0":1655.7,"x1":1911,"y1":1655.7},{"x0":1527,"y0":1589,"x1":1533,"y1":1573},
{"x0":1117.5,"y0":1826,"x1":1099,"y1":1847},{"x0":1203,"y0":1881,"x1":1196,"y1":1896},{"x0":1306,"y0":1886,"x1":1291,"y1":1886},{"x0":1396,"y0":1865,"x1":1391,"y1":1882},{"x0":1409,"y0":1835,"x1":1405,"y1":1856},{"x0":1476,"y0":1847,"x1":1475,"y1":1865},{"x0":1536,"y0":1834,"x1":1552,"y1":1841},{"x0":1602,"y0":1814,"x1":1627,"y1":1802},{"x0":1642.5,"y0":1788,"x1":1671,"y1":1773},{"x0":1680,"y0":1791,"x1":1705,"y1":1775},{"x0":1758,"y0":1772,"x1":1771,"y1":1755},{"x0":1831,"y0":1757,"x1":1827,"y1":1737},{"x0":1894,"y0":1737,"x1":1874,"y1":1718},{"x0":1934,"y0":1703,"x1":1903,"y1":1690},{"x0":1527,"y0":1722,"x1":1533,"y1":1738}
]},
"vconcat":[
{"hconcat":[
{"width":192.3,"height":1,"data":{"values":[{}]},"mark":{"type":"point","opacity":0},"encoding":{}},
{"vconcat":[
{"width":324.1,"height":133,"title":{"text":"Body","anchor":"middle","dx":-10,"offset":-26.5},"data":{"values":[{}]},"mark":{"type":"point","opacity":0},"encoding":{}},
{"width":324.1,"height":302,
"encoding":{
"x":{"field":"pc1","type":"quantitative","scale":{"domain":[-0.4,0.2],"nice":false,"zero":false},"axis":{"values":[-0.4,-0.2,0,0.2],"format":".1f","offset":30,"title":"PC1 (32.65 %)","titleX":173,"titlePadding":9}},
"y":{"field":"pc2","type":"quantitative","scale":{"domain":[-0.4,0.2],"nice":false,"zero":false},"axis":{"values":[-0.4,-0.2,0,0.2],"format":".1f","offset":67,"labelAngle":-90,"labelPadding":3,"title":"PC2 (24.61 %)","titleY":145,"titlePadding":12}},
"color":{"field":"genus","type":"nominal","sort":null,"scale":{"domain":["Empagusia","Euprepiosaurus","Hapturosaurus","Odatria","Papusaurus","Philippinosaurus","Polydaedalus","Psammosaurus","Soterosaurus","Varanus","Lanthanotus","Shinisaurus"],"range":["#A6DEEA","#C8DA66","#6DC26C","#ED1C24","#F58220","#F267A9","#7B52A5","#C9B3DB","#4E6DB7","#F68A6C","#FDB714","#595959"]},"legend":{"title":null,"orient":"none","legendX":0,"legendY":603.5,"padding":0,"direction":"horizontal","columns":8,"columnPadding":11,"rowPadding":16,"symbolType":"circle","labelOffset":8}}
},
"layer":[
{"data":{"name":"branches"},"transform":[{"filter":"datum.panel=='Body'"}],"mark":{"type":"line","strokeWidth":3},"encoding":{"color":{"value":"#C8C8C8"},"detail":{"field":"branch"},"order":{"value":null}}},
{"data":{"name":"taxa"},"transform":[{"filter":"datum.panel=='Body' && datum.hull != null"}],"mark":{"type":"line","interpolate":"linear-closed","strokeWidth":4.2},"encoding":{"order":{"field":"hull"}}},
{"data":{"name":"taxa"},"transform":[{"filter":"datum.panel=='Body'"}],"mark":{"type":"circle","size":230,"opacity":1}},
{"data":{"values":[{"pc1":-0.0896,"pc2":-0.659,"label":"Tail gets shallower-deeper"}]},"mark":{"type":"text","fontSize":27,"color":"black"},"encoding":{"text":{"field":"label"},"color":{"value":"black"}}},
{"data":{"values":[{"pc1":-0.728,"pc2":-0.07,"label":"Neck gets shorter-longer"}]},"mark":{"type":"text","fontSize":27,"angle":270},"encoding":{"text":{"field":"label"},"color":{"value":"black"}}}
]}
],"spacing":0,"bounds":"flush"},
{"width":654.7,"height":1,"data":{"values":[{}]},"mark":{"type":"point","opacity":0},"encoding":{}},
{"vconcat":[
{"width":407.4,"height":135.8,"title":{"text":"Limbs","anchor":"middle","dx":21,"offset":-26.5},"data":{"values":[{}]},"mark":{"type":"point","opacity":0},"encoding":{}},
{"width":407.4,"height":326,
"encoding":{
"x":{"field":"pc1","type":"quantitative","scale":{"domain":[-0.2,0.4],"nice":false,"zero":false},"axis":{"values":[-0.2,-0.1,0,0.1,0.2,0.3,0.4],"format":".1f","offset":9,"title":"PC1 (31.49 %)","titleX":233,"titlePadding":7}},
"y":{"field":"pc2","type":"quantitative","scale":{"domain":[-0.2,0.2],"nice":false,"zero":false},"axis":{"values":[-0.2,-0.1,0,0.1,0.2],"format":".1f","offset":7,"labelAngle":-90,"labelPadding":3,"title":"PC2 (20.31 %)","titleY":147,"titlePadding":10}},
"color":{"field":"genus","type":"nominal","sort":null,"scale":{"domain":["Empagusia","Euprepiosaurus","Hapturosaurus","Odatria","Papusaurus","Philippinosaurus","Polydaedalus","Psammosaurus","Soterosaurus","Varanus","Lanthanotus","Shinisaurus"],"range":["#A6DEEA","#C8DA66","#6DC26C","#ED1C24","#F58220","#F267A9","#7B52A5","#C9B3DB","#4E6DB7","#F68A6C","#FDB714","#595959"]},"legend":null}
},
"layer":[
{"data":{"name":"branches"},"transform":[{"filter":"datum.panel=='Limbs'"}],"mark":{"type":"line","strokeWidth":3},"encoding":{"color":{"value":"#C8C8C8"},"detail":{"field":"branch"},"order":{"value":null}}},
{"data":{"name":"taxa"},"transform":[{"filter":"datum.panel=='Limbs' && datum.hull != null"}],"mark":{"type":"line","interpolate":"linear-closed","strokeWidth":4.2},"encoding":{"order":{"field":"hull"}}},
{"data":{"name":"taxa"},"transform":[{"filter":"datum.panel=='Limbs'"}],"mark":{"type":"circle","size":230,"opacity":1}},
{"data":{"values":[{"pc1":0.1,"pc2":-0.328,"label":"Toe IV length decreases-increases"}]},"mark":{"type":"text","fontSize":27},"encoding":{"text":{"field":"label"},"color":{"value":"black"}}},
{"data":{"values":[{"pc1":-0.367,"pc2":-0.001,"label":"Hand length increases-decreases"}]},"mark":{"type":"text","fontSize":27,"angle":270},"encoding":{"text":{"field":"label"},"color":{"value":"black"}}}
]}
],"spacing":0,"bounds":"flush"},
{"width":781,"height":1,"data":{"values":[{}]},"mark":{"type":"point","opacity":0},"encoding":{}},
{"vconcat":[
{"width":224.3,"height":191.3,"title":{"text":"Head","anchor":"middle","dx":3,"offset":-26.5},"data":{"values":[{}]},"mark":{"type":"point","opacity":0},"encoding":{}},
{"width":224.3,"height":232.4,
"encoding":{
"x":{"field":"pc1","type":"quantitative","scale":{"domain":[-0.05,0.05],"nice":false,"zero":false},"axis":{"values":[-0.05,0,0.05],"format":".2f","offset":46,"title":"PC1 (42.67 %)","titleX":132,"titlePadding":8}},
"y":{"field":"pc2","type":"quantitative","scale":{"domain":[-0.04,0.04],"nice":false,"zero":false},"axis":{"values":[-0.04,0,0.04],"format":".2f","offset":109,"labelAngle":-90,"labelPadding":1,"title":"PC2 (16.84 %)","titleY":156,"titlePadding":14}},
"color":{"field":"genus","type":"nominal","sort":null,"scale":{"domain":["Empagusia","Euprepiosaurus","Hapturosaurus","Odatria","Papusaurus","Philippinosaurus","Polydaedalus","Psammosaurus","Soterosaurus","Varanus","Lanthanotus","Shinisaurus"],"range":["#A6DEEA","#C8DA66","#6DC26C","#ED1C24","#F58220","#F267A9","#7B52A5","#C9B3DB","#4E6DB7","#F68A6C","#FDB714","#595959"]},"legend":null}
},
"layer":[
{"data":{"name":"branches"},"transform":[{"filter":"datum.panel=='Head'"}],"mark":{"type":"line","strokeWidth":3},"encoding":{"color":{"value":"#C8C8C8"},"detail":{"field":"branch"},"order":{"value":null}}},
{"data":{"name":"taxa"},"transform":[{"filter":"datum.panel=='Head' && datum.hull != null"}],"mark":{"type":"line","interpolate":"linear-closed","strokeWidth":4.2},"encoding":{"order":{"field":"hull"}}},
{"data":{"name":"taxa"},"transform":[{"filter":"datum.panel=='Head'"}],"mark":{"type":"circle","size":230,"opacity":1}}
]}
],"spacing":0,"bounds":"flush"}
],"spacing":0,"bounds":"flush"},
{"width":1960,"height":1899,
"layer":[
{"data":{"name":"arrows"},"mark":{"type":"rule","color":"#ED1C24","strokeWidth":3.2,"strokeCap":"round"},"encoding":{"x":{"field":"x0","type":"quantitative","scale":{"domain":[0,1960],"nice":false,"zero":false},"axis":null},"y":{"field":"y0","type":"quantitative","scale":{"domain":[0,1899],"reverse":true,"nice":false,"zero":false},"axis":null},"x2":{"field":"x1"},"y2":{"field":"y1"}}},
{"data":{"name":"arrows"},"transform":[{"calculate":"atan2(datum.x1-datum.x0,datum.y0-datum.y1)*180/PI","as":"heading"}],"mark":{"type":"point","shape":"M-1,1.2L0,0L1,1.2","filled":false,"size":256,"stroke":"#ED1C24","strokeWidth":3.2,"strokeCap":"round","strokeJoin":"round","opacity":1},"encoding":{"x":{"field":"x1","type":"quantitative","scale":{"domain":[0,1960],"nice":false,"zero":false},"axis":null},"y":{"field":"y1","type":"quantitative","scale":{"domain":[0,1899],"reverse":true,"nice":false,"zero":false},"axis":null},"angle":{"field":"heading","type":"quantitative","scale":null}}},
{"data":{"values":[{"x":964.5,"y":1028},{"x":1007.5,"y":1655}]},"mark":{"type":"point","shape":"M1,0Q0.42,-0.2,-0.22,-0.672L-0.07,-0.26L-1,-0.26L-1,0.26L-0.07,0.26L-0.22,0.672Q0.42,0.2,1,0Z","filled":true,"color":"black","size":17161,"opacity":1},"encoding":{"x":{"field":"x","type":"quantitative","scale":{"domain":[0,1960],"nice":false,"zero":false},"axis":null},"y":{"field":"y","type":"quantitative","scale":{"domain":[0,1899],"reverse":true,"nice":false,"zero":false},"axis":null}}},
{"data":{"values":[{"x":964,"y":961,"label":"PC1"},{"x":1009,"y":1587,"label":"PC2"}]},"mark":{"type":"text","fontSize":26,"color":"black"},"encoding":{"x":{"field":"x","type":"quantitative","scale":{"domain":[0,1960],"nice":false,"zero":false},"axis":null},"y":{"field":"y","type":"quantitative","scale":{"domain":[0,1899],"reverse":true,"nice":false,"zero":false},"axis":null},"text":{"field":"label"}}}
]}
],"spacing":0,"bounds":"flush"}
